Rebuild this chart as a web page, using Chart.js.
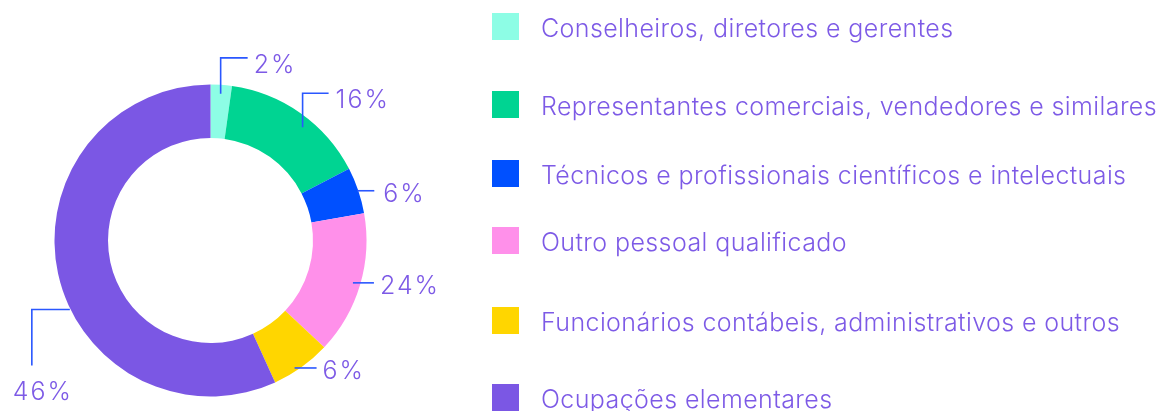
<!DOCTYPE html>
<html>
<head>
<meta charset="utf-8">
<script src="https://cdn.jsdelivr.net/npm/chart.js@4/dist/chart.umd.min.js"></script>
<style>
  html, body { margin: 0; padding: 0; background: #ffffff; }
  #wrap { width: 1162px; height: 411px; position: relative; }
</style>
</head>
<body>
<div id="wrap"><canvas id="c" width="1162" height="411"></canvas></div>
<script>
// ---- data ----
const categories = [
  "Conselheiros, diretores e gerentes",
  "Representantes comerciais, vendedores e similares",
  "Técnicos e profissionais científicos e intelectuais",
  "Outro pessoal qualificado",
  "Funcionários contábeis, administrativos e outros",
  "Ocupações elementares"
];
// slice sizes as drawn in the picture (share of the ring, %)
const sliceValues = [2.2, 15.2, 4.8, 14.8, 6.2, 56.8];
// percentage labels as printed on the picture
const valueLabels = ["2%", "16%", "6%", "24%", "6%", "46%"];
const colors = ["#8dfde5", "#00d492", "#0050ff", "#ff90ea", "#ffd600", "#7b57e4"];

// ---- styling / layout (not data) ----
const TEXT_COLOR = "#7d5ae6";
const LINE_COLOR = "#2a57ff";
const FONT = "300 25px Inter, Lato, sans-serif";

const labelLayout = [
  { t: 0.5,  r: 147,   kind: "up",    rise: 36, run: 27, gap: 6 },
  { t: 0.57, r: 146,   kind: "up",    rise: 34, run: 26, gap: 7 },
  { t: 0.5,  r: 155,   kind: "right", run: 17, gap: 9 },
  { t: 0.5,  r: 148.6, kind: "right", run: 21, gap: 6 },
  { t: 0.6,  r: 152.7, kind: "right", run: 22, gap: 6 },
  { t: 0.432, r: 156.7, kind: "leftdown", run: 38, drop: 56 }
];
const legendLayout = { x: 492, size: 27, textX: 541, rows: [26.5, 104.5, 173.5, 240.5, 320.5, 397.5], widestText: 616 };

function fitSpacing(ctx) {
  ctx.font = FONT;
  ctx.letterSpacing = "0px";
  const s = categories[1];
  const w = ctx.measureText(s).width;
  return Math.max(-2, Math.min(3, (legendLayout.widestText - w) / s.length));
}

const annotPlugin = {
  id: "annot",
  afterDraw(chart) {
    const ctx = chart.ctx;
    const meta = chart.getDatasetMeta(0);
    ctx.save();
    const sp = fitSpacing(ctx);
    ctx.font = FONT;
    ctx.lineWidth = 1.6;
    ctx.strokeStyle = LINE_COLOR;
    ctx.fillStyle = TEXT_COLOR;
    ctx.textBaseline = "alphabetic";
    ctx.letterSpacing = (sp + 1.6).toFixed(2) + "px";
    meta.data.forEach((arc, i) => {
      const L = labelLayout[i];
      const p = arc.getProps(["x", "y", "startAngle", "endAngle"], true);
      const a = p.startAngle + (p.endAngle - p.startAngle) * L.t;
      const ax = p.x + Math.cos(a) * L.r;
      const ay = p.y + Math.sin(a) * L.r;
      ctx.beginPath();
      ctx.moveTo(ax, ay);
      let tx, ty;
      ctx.textAlign = "left";
      if (L.kind === "up") {
        const ey = ay - L.rise;
        ctx.lineTo(ax, ey);
        ctx.lineTo(ax + L.run, ey);
        tx = ax + L.run + L.gap; ty = ey + 15;
      } else if (L.kind === "right") {
        ctx.lineTo(ax + L.run, ay);
        tx = ax + L.run + L.gap; ty = ay + 11.5;
      } else {
        const ex = ax - L.run;
        ctx.lineTo(ex, ay);
        ctx.lineTo(ex, ay + L.drop);
        tx = ex - 19; ty = ay + L.drop + 34;
      }
      ctx.stroke();
      ctx.fillStyle = TEXT_COLOR;
      ctx.fillText(valueLabels[i], tx, ty);
    });
    // legend
    ctx.letterSpacing = sp.toFixed(2) + "px";
    categories.forEach((name, i) => {
      const cy = legendLayout.rows[i];
      ctx.fillStyle = colors[i];
      ctx.fillRect(legendLayout.x, cy - legendLayout.size / 2, legendLayout.size, legendLayout.size);
      ctx.fillStyle = TEXT_COLOR;
      ctx.textAlign = "left";
      ctx.fillText(name, legendLayout.textX, cy + 10.5);
    });
    ctx.restore();
  }
};

new Chart(document.getElementById("c"), {
  type: "doughnut",
  data: {
    labels: categories,
    datasets: [{
      data: sliceValues,
      backgroundColor: colors,
      borderWidth: 0,
      hoverOffset: 0
    }]
  },
  options: {
    responsive: false,
    animation: false,
    cutout: "65.7%",
    layout: { padding: { left: 54.5, top: 84.5, right: 795.5, bottom: 14.5 } },
    plugins: { legend: { display: false }, tooltip: { enabled: false } },
    events: []
  },
  plugins: [annotPlugin]
});
</script>
</body>
</html>
